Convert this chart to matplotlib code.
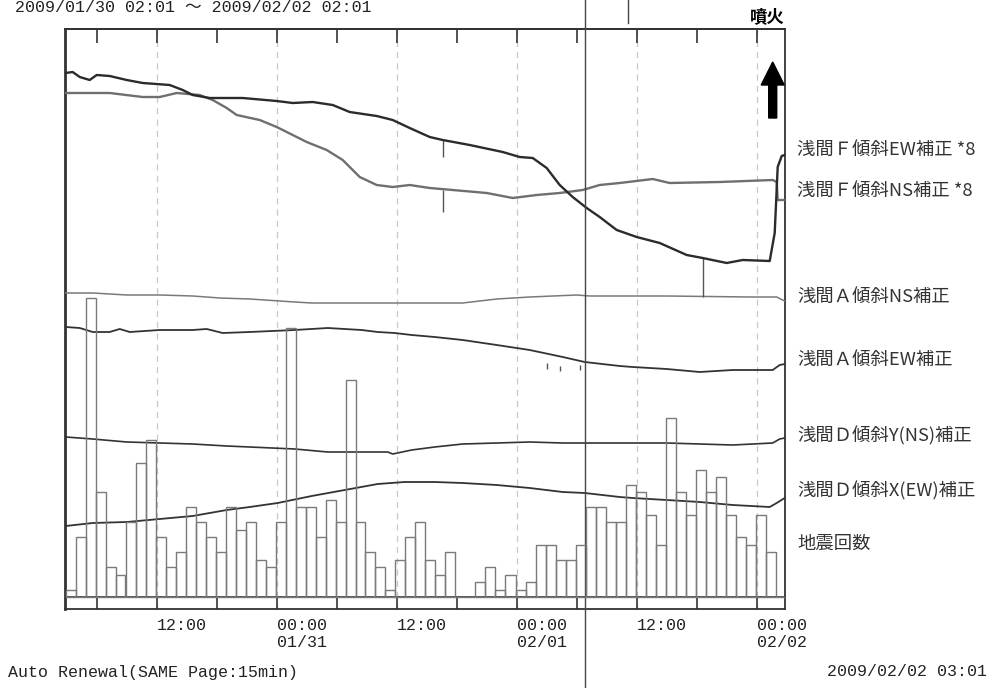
import matplotlib
matplotlib.use("Agg")
import matplotlib.pyplot as plt
import matplotlib.transforms as mtransforms
from matplotlib.patches import FancyArrow

# time axis: hours since 2009/01/30 00:00, trace levels in chart rows (0 = top)
t_start = 2.83
t_end = 74.83

# hourly earthquake counts (bars), one per hour from the left edge
quake_counts = [1, 8, 40, 14, 4, 3, 10, 18, 21, 8, 4, 6, 12, 10, 8, 6, 12, 9,
                10, 5, 4, 10, 36, 12, 12, 8, 13, 10, 29, 10, 6, 4, 1, 5, 8, 10,
                5, 3, 6, 0, 0, 2, 4, 1, 3, 1, 2, 7, 7, 5, 5, 7, 12, 12,
                10, 10, 15, 14, 11, 7, 24, 14, 11, 17, 14, 16, 11, 8, 7, 11, 6, 0]

f_ew_t = [2.9, 3.6, 4.3, 5.3, 6.0, 7.3, 9.0, 10.6, 13.3, 14.6, 15.6, 17.3, 20.6,
          24.0, 25.6, 27.6, 29.6, 31.3, 34.0, 35.6, 37.3, 39.3, 40.6, 43.3, 46.6,
          48.3, 49.6, 51.0, 52.3, 53.6, 55.0, 56.3, 58.0, 60.0, 62.3, 65.0, 66.6,
          69.0, 70.6, 73.3, 73.8, 74.1, 74.5, 74.8]
f_ew_v = [73, 72, 77, 80, 75, 76, 80, 83, 85, 90, 95, 98, 98,
          101, 103, 102, 105, 112, 116, 120, 128, 137, 140, 145, 152,
          157, 158, 168, 185, 197, 208, 217, 230, 237, 243, 255, 258,
          263, 260, 261, 233, 167, 156, 155]

f_ns_t = [2.9, 7.3, 10.6, 12.3, 14.0, 16.3, 17.6, 19.0, 20.0, 22.3, 24.0, 25.6,
          27.0, 29.0, 30.6, 32.3, 34.0, 35.6, 37.3, 39.3, 41.6, 45.0, 47.6, 50.0,
          52.3, 54.6, 56.3, 58.3, 61.6, 63.3, 68.3, 73.6, 74.0, 74.1, 74.8]
f_ns_v = [93, 93, 97, 97, 93, 95, 100, 108, 115, 120, 127, 135,
          142, 150, 160, 177, 185, 187, 185, 188, 190, 193, 198, 195,
          193, 190, 185, 183, 179, 183, 182, 180, 182, 200, 200]

a_ns_t = [2.9, 5.6, 9.0, 12.3, 15.6, 18.3, 21.3, 25.8, 27.5, 30.8, 35.8, 39.3,
          42.6, 46.0, 49.3, 54.0, 55.3, 63.0, 71.3, 74.0, 74.8]
a_ns_v = [293, 293, 295, 295, 296, 298, 299, 302, 303, 303, 303, 303,
          303, 299, 297, 295, 296, 296, 297, 297, 301]

a_ew_t = [2.9, 4.3, 5.6, 7.3, 8.3, 9.3, 12.3, 15.6, 17.0, 18.6, 21.3, 25.8, 29.1,
          32.5, 34.1, 35.8, 37.5, 39.8, 42.6, 46.0, 49.3, 52.6, 54.8, 58.3, 59.6,
          63.0, 66.3, 69.6, 73.6, 74.3, 74.8]
a_ew_v = [327, 328, 332, 332, 329, 332, 330, 330, 329, 333, 332, 330, 328,
          330, 332, 333, 335, 337, 340, 345, 350, 357, 362, 366, 367,
          369, 372, 370, 370, 365, 364]

d_y_t = [2.9, 5.6, 9.0, 12.3, 15.6, 19.0, 21.3, 25.8, 29.1, 35.1, 35.6, 37.5,
         39.8, 42.6, 46.0, 49.3, 52.6, 58.3, 63.0, 66.3, 69.6, 73.6, 74.3, 74.8]
d_y_v = [437, 439, 442, 443, 444, 446, 447, 449, 452, 452, 454, 450,
         447, 444, 443, 442, 443, 443, 443, 444, 445, 443, 439, 438]

d_x_t = [2.9, 5.6, 9.0, 12.3, 15.6, 19.0, 21.3, 24.1, 27.5, 30.8, 34.1, 36.8,
         39.8, 42.6, 46.0, 49.3, 52.6, 54.8, 58.3, 59.6, 63.0, 66.3, 69.6, 73.3,
         74.0, 74.8]
d_x_v = [526, 523, 522, 519, 516, 510, 507, 503, 496, 490, 484, 482,
         482, 483, 485, 488, 492, 493, 497, 498, 500, 502, 505, 507,
         503, 498]

# short spikes on the tilt traces
spike_t = [40.6, 40.6, 66.6, 51.0, 52.3, 54.3]
spike_lo = [140, 190, 258, 363, 366, 365]
spike_hi = [157, 212, 297, 369, 371, 370]

tick_hours = [12, 24, 36, 48, 60, 72]
tick_labels = ["12:00", "00:00\n01/31", "12:00", "00:00\n02/01", "12:00", "00:00\n02/02"]
minor_hours = [6, 12, 18, 24, 30, 36, 42, 48, 54, 60, 66, 72]

trace_names = ["浅間Ｆ傾斜EW補正 *8", "浅間Ｆ傾斜NS補正 *8", "浅間Ａ傾斜NS補正",
               "浅間Ａ傾斜EW補正", "浅間Ｄ傾斜Y(NS)補正", "浅間Ｄ傾斜X(EW)補正", "地震回数"]
name_rows = [150, 191, 297, 360, 436, 491, 544]

cursor_hour = 54.83
marker_hour = 59.1
eruption_hour = 73.6

mono = ["Liberation Mono", "Noto Sans CJK JP"]
jp = ["Noto Sans CJK JP", "DejaVu Sans"]


def fx(x):
    return x / 990


def fy(y):
    return 1 - y / 688


fig = plt.figure(figsize=(9.9, 6.88), dpi=100)
ax = fig.add_axes([fx(65), fy(609), fx(785) - fx(65), fy(29) - fy(609)])
ax.set_xlim(t_start, t_end)
ax.set_ylim(609, 29)

# grid every 12 h
for h in tick_hours:
    ax.axvline(h, color="#c8c8c8", lw=0.9, ls=(0, (5, 4)), zorder=0)

# bars on their own scale: 0 counts at row 597, 7.47 rows per count
ax2 = ax.twinx()
ax2.set_ylim(-12 / 7.47, 568 / 7.47)
bar_left = [t_start + i + 0.05 for i in range(len(quake_counts))]
ax2.bar(bar_left, quake_counts, width=1.0, align="edge", fill=False,
        edgecolor="#7a7a7a", lw=1.0)
ax2.set_yticks([])
for s in ax2.spines.values():
    s.set_visible(False)

ax.plot(f_ns_t, f_ns_v, color="#6f6f6f", lw=1.7, zorder=3)
ax.plot(f_ew_t, f_ew_v, color="#2b2b2b", lw=1.7, zorder=4)
ax.plot(a_ns_t, a_ns_v, color="#7a7a7a", lw=1.1, zorder=3)
ax.plot(a_ew_t, a_ew_v, color="#333333", lw=1.3, zorder=3)
ax.plot(d_y_t, d_y_v, color="#333333", lw=1.2, zorder=3)
ax.plot(d_x_t, d_x_v, color="#333333", lw=1.3, zorder=3)
ax.vlines(spike_t, spike_lo, spike_hi, color="#555555", lw=1.0, zorder=3)

# bottom strip line
ax.axhline(597, color="#333333", lw=1.2)

for s in ax.spines.values():
    s.set_color("#333333")
    s.set_linewidth(1.3)
ax.spines["left"].set_linewidth(2.0)

ax.set_xticks(minor_hours)
ax.set_xticklabels([])
ax.set_yticks([])
ax.tick_params(axis="x", direction="in", top=False, bottom=True,
               length=8.6, width=1.2, color="#333333")

top = ax.secondary_xaxis("top")
top.set_xticks(minor_hours)
top.set_xticklabels([])
top.tick_params(direction="in", length=10, width=1.2, color="#333333")
top.spines["top"].set_color("#333333")
top.spines["top"].set_linewidth(1.3)

# tick labels, left aligned at the tick
lab_tr = mtransforms.blended_transform_factory(ax.transData, fig.transFigure)
for h, lab in zip(tick_hours, tick_labels):
    ax.text(h, fy(618), lab, transform=lab_tr, ha="left", va="top",
            fontsize=12, family=mono, color="#222222", linespacing=1.15)

# cursor line through the whole picture, and the short marker on top
ax.plot([cursor_hour, cursor_hour], [0, 1], transform=lab_tr, color="#444444",
        lw=1.0, clip_on=False, zorder=5)
ax.plot([marker_hour, marker_hour], [fy(0), fy(23)], transform=lab_tr,
        color="#444444", lw=1.0, clip_on=False)

# eruption arrow
ax.add_patch(FancyArrow(eruption_hour, 118, 0, -56, width=0.8, head_width=2.3,
                        head_length=23, length_includes_head=True,
                        color="black", zorder=6))
fig.text(fx(767), fy(17), "噴火", ha="center", va="center", fontsize=12.5,
         fontweight="bold", family=jp, color="black")

for name, row in zip(trace_names, name_rows):
    fig.text(fx(797), fy(row), name, ha="left", va="center", fontsize=13.2,
             family=jp, color="#333333")

fig.text(fx(15), fy(12), "2009/01/30 02:01 ～ 2009/02/02 02:01", ha="left",
         va="baseline", fontsize=12, family=mono, color="#222222")
fig.text(fx(8), fy(673), "Auto Renewal(SAME Page:15min)", ha="left",
         va="center", fontsize=12, family=mono, color="#222222")
fig.text(fx(987), fy(671), "2009/02/02 03:01", ha="right", va="center",
         fontsize=12, family=mono, color="#222222")

fig.savefig("out.png", dpi=100, facecolor="white")
